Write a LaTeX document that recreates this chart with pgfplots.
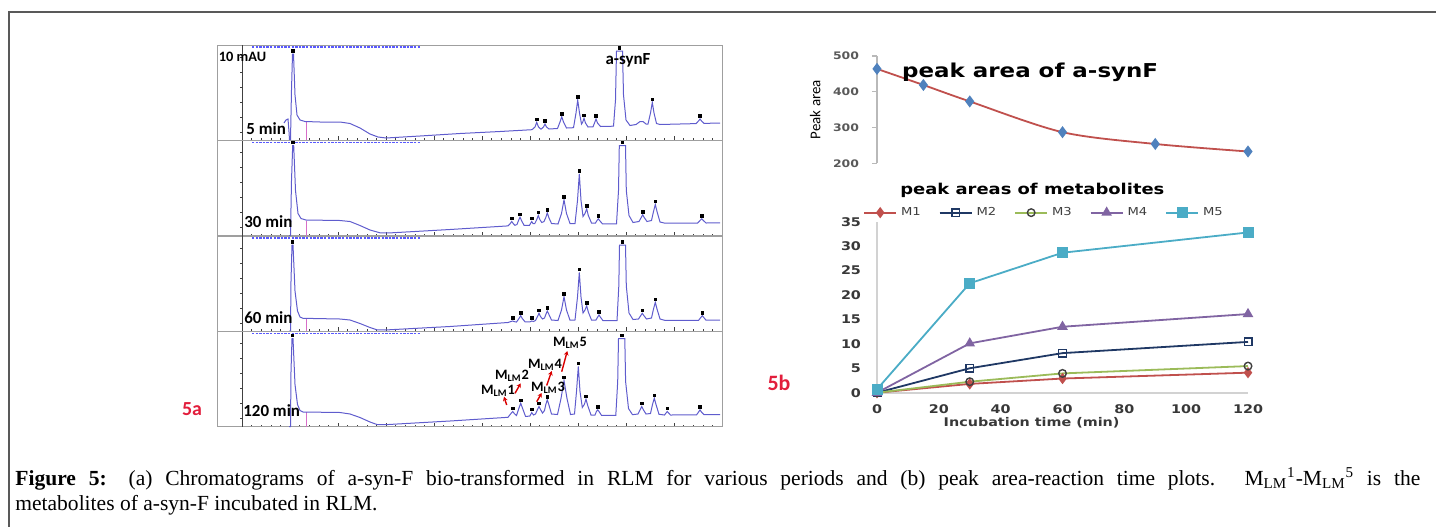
\documentclass[border=0pt]{standalone}
\usepackage{fontspec}
\setmainfont{Liberation Serif}
\newfontfamily\carl{Carlito}
\newfontfamily\verd[FakeStretch=1.2]{DejaVu Sans}
\usepackage{pgfplots}
\pgfplotsset{compat=1.18}
\usetikzlibrary{arrows.meta}

\definecolor{trace}{RGB}{95,92,205}
\definecolor{integ}{RGB}{215,110,200}
\definecolor{cM1}{RGB}{192,80,77}
\definecolor{cM2}{RGB}{31,56,100}
\definecolor{cM3}{RGB}{155,187,89}
\definecolor{cM4}{RGB}{128,100,162}
\definecolor{cM5}{RGB}{75,172,198}
\definecolor{cblue}{RGB}{79,129,189}
\definecolor{figred}{RGB}{226,30,60}

\pgfplotsset{
  chrom/.style={scale only axis, width=252.5bp, height=47.5bp,
    anchor=south west, xmin=217, xmax=722, ymin=0, ymax=95,
    axis line style={gray!75, line width=0.5bp},
    xtick={242,290,...,722}, minor x tick num=4, xticklabels={},
    xtick pos=lower, ytick=\empty, tick align=inside,
    major tick length=2bp, minor tick length=1bp,
    tick style={gray!50!black, line width=0.3bp}, clip=false},
  tr/.style={trace, line width=0.5bp, no marks},
  pk/.style={only marks, mark=square*, mark size=0.65bp, black,
    mark options={yshift=1.5bp}},
  ig/.style={integ, line width=0.5bp, no marks},
}
\tikzset{
  ax/.style={gray!50!black, line width=0.4bp},
  lab/.style={font=\carl\bfseries\fontsize{8.5}{9}\selectfont, anchor=west, inner sep=0pt},
  hdr/.style={blue!65, line width=0.9bp, dash pattern=on 1.2bp off 0.6bp},
}

\begin{document}
\begin{tikzpicture}
\path[use as bounding box] (0,0) rectangle (718bp,-263.5bp);
\draw[gray!70!black, line width=0.9bp] (4.5bp,-263.5bp) -- (4.5bp,-6bp) -- (718bp,-6bp);

% ---- 5a chromatograms ----
\begin{axis}[chrom, at={(108.5bp,-70bp)}]
\draw[ax] (axis cs:242,0) -- (axis cs:242,95)
  (axis cs:242,8)--(axis cs:239.5,8) (axis cs:242,23)--(axis cs:239.5,23)
  (axis cs:242,38)--(axis cs:239.5,38) (axis cs:242,53)--(axis cs:239.5,53)
  (axis cs:242,68)--(axis cs:239.5,68) (axis cs:242,83)--(axis cs:239.5,83);
\draw[hdr] (axis cs:252,93) -- (axis cs:420,93);
\addplot[ig] coordinates {(306,0) (306,18)};
\addplot[tr] coordinates {(284,17) (286,20) (288,21) (289,8) (289.5,0) (290.5,0) (291.5,50) (292.5,86) (293.5,86) (295,45) (297,25) (300,20) (305,18.5) (320,18) (340,18) (350,16.5) (360,12) (370,6) (378,3) (386,2) (420,4) (460,6.5) (500,8.5) (532,10.3) (535,13) (536.7,17.7) (538.5,13) (541,10.8) (543.5,13) (545,16) (546.5,13) (549,11) (557.5,11.5) (560,18) (561.7,23.3) (563.5,18) (566.5,12) (573.5,12.3) (576,27) (577.7,40) (579.5,27) (581.5,16) (582.8,18) (584,21.7) (585.5,17) (588,13) (593,13.2) (594.5,17) (596,21) (597.5,17) (600.5,13.5) (613.5,13.8) (615.5,40) (616.5,89) (622.5,89) (623.5,45) (626,20) (630,14.5) (636,15.5) (640,18.5) (643,18.5) (646,16) (648,16) (650.5,27) (652.3,37.7) (654,27) (656.5,16.5) (660,15.5) (696,16.4) (698.5,19) (700,21) (701.5,19) (704,16.6) (720,17)};
\addplot[pk] coordinates {(293,86) (536.7,17.7) (545,16) (561.7,23.3) (577.7,40) (584,21.7) (596,21) (619.5,89) (652.3,37.7) (700,21)};
\node[lab, font=\carl\bfseries\fontsize{7.2}{8}\selectfont] at (axis cs:218.5,83) {10 mAU};
\node[lab, anchor=center, font=\carl\bfseries\fontsize{8.5}{9}\selectfont] at (axis cs:628,80) {a-synF};
\node[lab] at (axis cs:246,11) {5 min};
\end{axis}

\begin{axis}[chrom, at={(108.5bp,-117.75bp)}]
\draw[ax] (axis cs:242,0) -- (axis cs:242,95)
  (axis cs:242,8)--(axis cs:239.5,8) (axis cs:242,23)--(axis cs:239.5,23)
  (axis cs:242,38)--(axis cs:239.5,38) (axis cs:242,53)--(axis cs:239.5,53)
  (axis cs:242,68)--(axis cs:239.5,68) (axis cs:242,83)--(axis cs:239.5,83);
\draw[hdr] (axis cs:252,93) -- (axis cs:420,93);
\addplot[ig] coordinates {(306.7,0) (306.7,15)};
\addplot[tr] coordinates {(289,0) (290.5,0) (291.5,55) (292.7,90) (293.7,90) (295.5,45) (298,22) (301,17) (306,15.5) (340,15) (350,14) (360,10) (370,5.5) (380,2.7) (390,2.6) (450,6) (508,9.6) (510.3,12) (511.7,14) (513.2,12) (515,10.2) (517,11) (518.5,15) (520,18.3) (521.5,15) (524,10.2) (529.5,10.2) (530.5,12) (531.7,14) (533,12) (534.8,12) (536.8,16) (538.3,20) (539.8,16) (541.8,13) (544,14) (545.8,18) (547.3,22.7) (548.8,18) (551.5,12) (558,11.5) (561.5,22) (564,35.7) (566.5,22) (570,12) (575,12) (577.5,35) (579.3,61.7) (581,35) (583,19) (585,22) (586.7,26.7) (588.3,20) (591.5,12.5) (595.5,12.5) (597,15) (598.3,16.7) (599.6,15) (602.5,11.6) (616.5,11.6) (618.5,45) (619.3,90) (625.5,90) (626.3,45) (629,20) (633,13) (639,14) (641.2,18) (642.7,20.7) (644.2,18) (647,14) (651.5,15) (653.5,24) (655.3,31) (657,24) (660,13.5) (665,12.3) (697.5,12.3) (700,15) (701.7,16.7) (703.4,15) (706,12.5) (720,12.6)};
\addplot[pk] coordinates {(293,90) (511.7,14) (520,18.3) (531.7,14) (538.3,20) (547.3,22.7) (564,35.7) (579.3,61.7) (586.7,26.7) (598.3,16.7) (622.5,90) (642.7,20.7) (655.3,31) (701.7,16.7)};
\node[lab] at (axis cs:244,13.5) {30 min};
\end{axis}

\begin{axis}[chrom, at={(108.5bp,-165.5bp)}]
\draw[ax] (axis cs:242,0) -- (axis cs:242,95)
  (axis cs:242,8)--(axis cs:239.5,8) (axis cs:242,23)--(axis cs:239.5,23)
  (axis cs:242,38)--(axis cs:239.5,38) (axis cs:242,53)--(axis cs:239.5,53)
  (axis cs:242,68)--(axis cs:239.5,68) (axis cs:242,83)--(axis cs:239.5,83);
\draw[hdr] (axis cs:252,93) -- (axis cs:420,93);
\addplot[ig] coordinates {(306.7,0) (306.7,12.5)};
\addplot[tr] coordinates {(289,0) (290.5,0) (291,50) (292,86) (293,86) (295,40) (297.5,20) (300,14) (303,12.7) (340,12) (350,11) (360,7.5) (370,3.5) (377,1.2) (385,1) (450,4.5) (508,8.5) (511,9.5) (512.7,10) (514.5,9.3) (516.5,9) (519,12.5) (520.7,15.3) (522.3,12.5) (525,9.2) (530,9.2) (531.7,10) (533.5,9.5) (535.5,10.5) (537.5,14.5) (539,17.7) (540.5,14.5) (542.5,12) (544.5,13) (546,17) (547.3,20) (548.7,17) (551.5,11) (558,10.5) (561.5,21) (564,34.3) (566.5,21) (570,10.8) (575,11) (577.5,34) (579.3,58.7) (581,34) (583,18) (585,21) (586.7,25.3) (588.3,19) (591.5,11) (596,11) (597.7,14) (599,16) (600.3,14) (603,10.3) (617,10.3) (618.8,45) (619.5,86) (625.5,86) (626.3,45) (629,18) (633,11.5) (638.5,12) (640.8,15.5) (642.3,17.7) (643.8,15.5) (646.5,12) (651.5,13) (653.5,22) (655.3,28.7) (657,22) (660,12) (665,10.6) (698.5,10.6) (700.8,13.5) (702.3,15.3) (703.8,13.5) (706,10.8) (720,10.9)};
\addplot[pk] coordinates {(292.5,86) (512.7,10) (520.7,15.3) (531.7,10) (539,17.7) (547.3,20) (564,34.3) (579.3,58.7) (586.7,25.3) (599,16) (622.5,86) (642.3,17.7) (655.3,28.7) (702.3,15.3)};
\node[lab] at (axis cs:244,13) {60 min};
\end{axis}

\begin{axis}[chrom, at={(108.5bp,-213.25bp)}]
\draw[ax] (axis cs:242,0) -- (axis cs:242,95)
  (axis cs:242,8)--(axis cs:239.5,8) (axis cs:242,23)--(axis cs:239.5,23)
  (axis cs:242,38)--(axis cs:239.5,38) (axis cs:242,53)--(axis cs:239.5,53)
  (axis cs:242,68)--(axis cs:239.5,68) (axis cs:242,83)--(axis cs:239.5,83);
\draw[hdr] (axis cs:252,93) -- (axis cs:420,93);
\addplot[ig] coordinates {(306.7,0) (306.7,14.3)};
\addplot[tr] coordinates {(289,0) (290.5,0) (291,55) (292,88) (293,88) (295,42) (297.5,22) (300,16) (303,14.5) (340,14) (350,12.5) (360,9) (370,4.5) (377,2) (385,1.8) (450,5.5) (508,9.2) (510.5,12.5) (512.7,15) (514.7,12.5) (516.5,11) (518.8,18) (520.7,23.3) (522.6,18) (525.5,10.2) (529.8,10.3) (531.7,14) (533.5,11.5) (535.5,12.5) (537.5,17) (539,20) (540.5,17) (542.5,13.5) (544.5,16) (545.8,22) (547.3,26.7) (548.8,22) (551.5,12.5) (557.5,12) (561,28) (564,46) (567,28) (570.5,12) (574.5,12.5) (576.5,35) (578.3,60) (580,35) (582.3,19) (584.3,22) (586,27.3) (587.7,21) (591,11.5) (595,11.5) (596.4,15) (597.7,16.7) (599,15) (601.5,11.2) (615.8,11.2) (617.7,45) (618.5,88) (624.8,88) (625.6,45) (628.5,18) (632.5,11.8) (638,12.5) (640.2,17) (641.7,20) (643.2,17) (646,12.5) (650.5,13) (652.5,22) (654.3,28.3) (656,22) (659,12.2) (664.5,11.5) (666,13.5) (667.3,15) (668.6,13.5) (670.5,11.5) (696.5,11.6) (698.6,14.5) (700,16.7) (701.4,14.5) (704,11.8) (720,11.9)};
\addplot[pk] coordinates {(292.5,88) (512.7,15) (520.7,23.3) (531.7,14) (539,20) (547.3,26.7) (564,46) (578.3,60) (586,27.3) (597.7,16.7) (621.7,88) (641.7,20) (654.3,28.3) (667.3,15) (700,16.7)};
\node[lab] at (axis cs:243,15.5) {120 min};
\begin{scope}[every node/.style={font=\carl\bfseries\fontsize{7.2}{8}\selectfont, inner sep=0pt}]
\node at (axis cs:498,35.5) {M\textsubscript{LM}1};
\node at (axis cs:512,51) {M\textsubscript{LM}2};
\node at (axis cs:548,39) {M\textsubscript{LM}3};
\node at (axis cs:545,62) {M\textsubscript{LM}4};
\node at (axis cs:570,84) {M\textsubscript{LM}5};
\end{scope}
\draw[red!85!black, line width=0.7bp, -{Stealth[length=2.2bp,width=2.4bp]}]
  (axis cs:506.7,21.5) -- (axis cs:504,29.8);
\draw[red!85!black, line width=0.7bp, -{Stealth[length=2.2bp,width=2.4bp]}]
  (axis cs:515,33.2) -- (axis cs:520.7,43.2);
\draw[red!85!black, line width=0.7bp, -{Stealth[length=2.2bp,width=2.4bp]}]
  (axis cs:536.7,24.8) -- (axis cs:541.7,33.5);
\draw[red!85!black, line width=0.7bp, -{Stealth[length=2.2bp,width=2.4bp]}]
  (axis cs:546.7,41) -- (axis cs:551.7,55.5);
\draw[red!85!black, line width=0.7bp, -{Stealth[length=2.2bp,width=2.4bp]}]
  (axis cs:561.7,54.8) -- (axis cs:567.3,75.5);
\end{axis}

\node[font=\carl\bfseries\fontsize{10}{11}\selectfont, text=figred] at (96bp,-204.5bp) {5a};
\node[font=\carl\bfseries\fontsize{11}{12}\selectfont, text=figred] at (389.5bp,-191.5bp) {5b};

% ---- 5b top: peak area of a-synF ----
\begin{axis}[scale only axis, width=185.5bp, height=53.65bp,
  at={(438.5bp,-81.65bp)}, anchor=south west,
  xmin=0, xmax=120, ymin=200, ymax=500,
  axis y line=left, axis x line=none,
  axis line style={-, gray!55, line width=0.7bp},
  ytick={200,300,400,500}, tick align=outside, major tick length=2.5bp,
  ytick style={gray!55, line width=0.7bp},
  /pgf/number format/assume math mode=true,
  yticklabel style={font=\verd\bfseries\fontsize{5.2}{6}\selectfont, text=black!65, xshift=-3bp},
  clip=false]
\addplot[cM1, line width=0.9bp, smooth, mark=diamond*, mark size=2.3bp,
  mark options={cblue, draw=cblue}] coordinates {
  (0,464) (15,419) (30,373) (60,287) (90,254) (120,233)};
\node[anchor=base west, inner sep=0pt, font=\verd\bfseries\fontsize{9.6}{11}\selectfont]
  at (axis cs:8,440) {peak area of a-synF};
\node[rotate=90, font=\carl\fontsize{7.5}{8}\selectfont] at (axis cs:-20,350) {Peak area};
\end{axis}

% ---- 5b bottom: peak areas of metabolites ----
\begin{axis}[scale only axis, width=185.5bp, height=85.5bp,
  at={(438.5bp,-196.35bp)}, anchor=south west,
  xmin=0, xmax=120, ymin=0, ymax=35,
  axis x line=bottom, axis y line=left,
  axis line style={-, gray!35, line width=0.8bp},
  xtick={0,20,...,120}, ytick={0,5,...,35}, major tick length=0pt,
  /pgf/number format/assume math mode=true,
  ticklabel style={font=\verd\bfseries\fontsize{6}{7}\selectfont, text=black!78},
  yticklabel style={xshift=-4.5bp}, xticklabel style={yshift=-2.5bp},
  legend columns=5,
  legend style={draw=none, fill=none, at={(-0.038,1.053)}, anchor=west,
    font=\verd\fontsize{5.5}{6}\selectfont, text=black!75,
    /tikz/every even column/.append style={column sep=7bp},
    inner sep=0pt},
  legend image code/.code={\draw[mark repeat=2, mark phase=2]
    plot coordinates {(0bp,0bp) (8bp,0bp) (16bp,0bp)};},
  clip=false]
\addplot[cM1, line width=0.9bp, mark=diamond*, mark size=2.1bp] coordinates {
  (0,0) (30,1.8) (60,2.9) (120,4.1)};
\addlegendentry{M1}
\addplot[cM2, line width=0.9bp, mark=square, mark size=1.9bp,
  mark options={fill=white, line width=0.7bp}] coordinates {
  (0,0) (30,5.0) (60,8.1) (120,10.4)};
\addlegendentry{M2}
\addplot[cM3, line width=0.9bp, mark=o, mark size=1.9bp,
  mark options={draw=black!75, fill=white, line width=0.7bp}] coordinates {
  (0,0) (30,2.25) (60,3.95) (120,5.45)};
\addlegendentry{M3}
\addplot[cM4, line width=0.9bp, mark=triangle*, mark size=2.2bp] coordinates {
  (0,0) (30,10.1) (60,13.5) (120,16.1)};
\addlegendentry{M4}
\addplot[cM5, line width=0.9bp, mark=square*, mark size=2.3bp] coordinates {
  (0,0.7) (30,22.4) (60,28.65) (120,32.8)};
\addlegendentry{M5}
\node[anchor=base west, inner sep=0pt, font=\verd\bfseries\fontsize{7.5}{9}\selectfont]
  at (axis cs:7.4,40.5) {peak areas of metabolites};
\node[font=\verd\bfseries\fontsize{6}{7}\selectfont, text=black!78]
  at (axis cs:50,-6.2) {Incubation time (min)};
\end{axis}

% ---- caption ----
\node[anchor=base west, inner sep=0pt] at (7.5bp,-242.5bp) {\parbox[t]{702.5bp}{%
  \fontsize{10.8}{13}\selectfont
  \textbf{Figure 5:} (a) Chromatograms of a-syn-F bio-transformed in RLM for various periods and (b) peak area-reaction time plots. M\textsubscript{LM}\textsuperscript{1}-M\textsubscript{LM}\textsuperscript{5} is the\linebreak
  metabolites of a-syn-F incubated in RLM.}};
\end{tikzpicture}
\end{document}
